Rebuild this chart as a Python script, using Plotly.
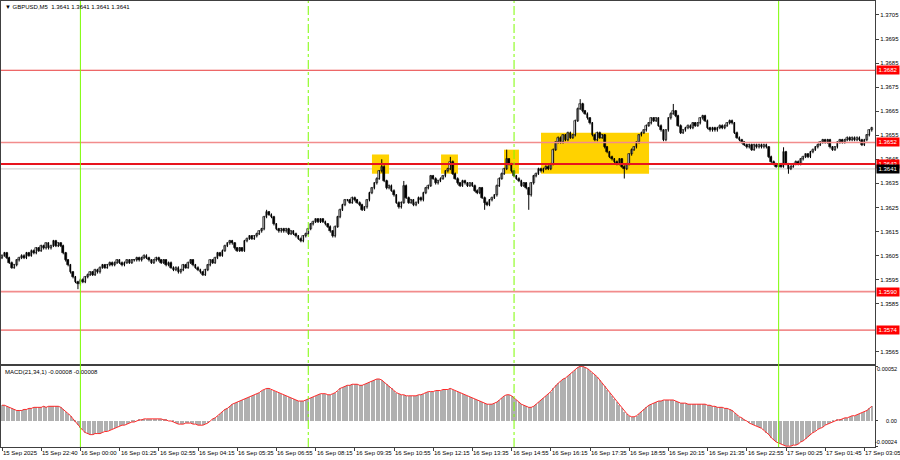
import plotly.graph_objects as go

# ---------------- data ----------------
closes = [
    # 15 Sep 21:20 ...
    1.3605, 1.3606, 1.3604, 1.3602, 1.3600, 1.3601, 1.3603, 1.3604, 1.3605, 1.3604, 1.3606, 1.3605,
    1.3607, 1.3606, 1.3608, 1.3607, 1.3609, 1.3608, 1.3610, 1.3608, 1.3609, 1.3611, 1.3609, 1.3610, 1.3609,
    1.3606, 1.3603, 1.3601, 1.3598, 1.3596, 1.3594, 1.3593,
    1.3595, 1.3594, 1.3596, 1.3597,
    1.3598, 1.3597, 1.3599, 1.3598, 1.3600, 1.3601, 1.3600,
    1.3601, 1.3602, 1.3601, 1.3602, 1.3603, 1.3602, 1.3601, 1.3602, 1.3603, 1.3602, 1.3603,
    1.3603, 1.3604, 1.3603, 1.3604, 1.3605, 1.3604, 1.3603, 1.3602, 1.3603, 1.3604, 1.3603, 1.3602, 1.3603, 1.3601, 1.3602, 1.3600,
    1.3599, 1.3600, 1.3598, 1.3599, 1.3601, 1.3600,
    1.3602, 1.3603, 1.3601, 1.3600, 1.3599,
    1.3598, 1.3597, 1.3599,
    1.3601, 1.3603, 1.3602, 1.3604, 1.3606, 1.3605, 1.3607, 1.3609, 1.3610, 1.3611,
    1.3610, 1.3608, 1.3607, 1.3608, 1.3607,
    1.3611, 1.3612, 1.3613, 1.3612, 1.3613, 1.3614, 1.3615, 1.3616,
    1.3621, 1.3623, 1.3622, 1.3621,
    1.3618, 1.3616, 1.3615,
    1.3616, 1.3615, 1.3616, 1.3614, 1.3615, 1.3614, 1.3613,
    1.3612, 1.3611, 1.3613, 1.3614,
    1.3616, 1.3618, 1.3619, 1.3620, 1.3619, 1.3620, 1.3619, 1.3618, 1.3617,
    1.3615, 1.3613,
    1.3617, 1.3621, 1.3624, 1.3626, 1.3628,
    1.3628, 1.3627, 1.3629, 1.3628, 1.3627, 1.3626, 1.3624,
    1.3625, 1.3628,
    1.3631, 1.3633, 1.3635, 1.3637, 1.3640, 1.3642,
    1.3636, 1.3633, 1.3634, 1.3632, 1.3630, 1.3627, 1.3625,
    1.3627, 1.3634, 1.3629,
    1.3627, 1.3628, 1.3626, 1.3627, 1.3629,
    1.3628, 1.3631, 1.3633, 1.3634,
    1.3638, 1.3637, 1.3635, 1.3636,
    1.3637, 1.3638, 1.3640, 1.3641,
    1.3644,
    1.3639, 1.3637, 1.3635,
    1.3634, 1.3636, 1.3635, 1.3634, 1.3635,
    1.3634, 1.3632, 1.3631, 1.3633,
    1.3629, 1.3627, 1.3626, 1.3628, 1.3629, 1.3630,
    1.3634, 1.3637, 1.3639,
    1.3641, 1.3645, 1.3643,
    1.3640, 1.3638, 1.3637,
    1.3636, 1.3634, 1.3635, 1.3633,
    1.3630, 1.3635, 1.3638,
    1.3639, 1.3641, 1.3640, 1.3641, 1.3642, 1.3641, 1.3643,
    1.3649, 1.3652,
    1.3654, 1.3652, 1.3655, 1.3653, 1.3656, 1.3654, 1.3655,
    1.3661, 1.3666, 1.3668, 1.3665,
    1.3664, 1.3662, 1.3660,
    1.3655, 1.3653, 1.3656, 1.3654, 1.3655,
    1.3650, 1.3648, 1.3646,
    1.3645, 1.3644, 1.3643, 1.3645, 1.3642, 1.3641, 1.3643,
    1.3647, 1.3649, 1.3650, 1.3652,
    1.3655, 1.3656, 1.3657,
    1.3659, 1.3660, 1.3662, 1.3661, 1.3662,
    1.3659, 1.3657,
    1.3653, 1.3657,
    1.3662, 1.3664, 1.3665, 1.3663,
    1.3659, 1.3656, 1.3657,
    1.3658, 1.3659, 1.3658, 1.3660, 1.3659, 1.3660,
    1.3662, 1.3663, 1.3661,
    1.3658, 1.3657, 1.3658, 1.3657,
    1.3658, 1.3659, 1.3658, 1.3659, 1.3660, 1.3661, 1.3660,
    1.3656, 1.3654, 1.3653,
    1.3652, 1.3651, 1.3650, 1.3651, 1.3649,
    1.3651, 1.3650, 1.3651, 1.3650, 1.3651, 1.3650,
    1.3646, 1.3644, 1.3643,
    1.3642, 1.3643, 1.3642,
    1.3648,
    1.3643, 1.3641, 1.3642,
    1.3643, 1.3644, 1.3643, 1.3645,
    1.3646, 1.3647, 1.3646, 1.3648, 1.3649,
    1.3650, 1.3651, 1.3652, 1.3653, 1.3652, 1.3653,
    1.3650, 1.3649, 1.3650,
    1.3652, 1.3653, 1.3652, 1.3653, 1.3654, 1.3653, 1.3654, 1.3653, 1.3654, 1.3653,
    1.3651, 1.3653,
    1.3655, 1.3657, 1.3658,
]
first_open = 1.3604

# notable wick extremes (bar index -> price)
high_marks = {108: 1.3624, 155: 1.3645, 164: 1.3636, 183: 1.3646, 206: 1.3649,
              236: 1.3670, 274: 1.3668, 319: 1.3650}
low_marks = {31: 1.3591, 197: 1.3624, 215: 1.3624, 254: 1.3637, 321: 1.3639}

macd = [
    0.00015, 0.00015, 0.00014, 0.00013, 0.00012, 0.00011, 0.00010, 0.00010, 0.00010, 0.00011, 0.00011, 0.00012,
    0.00012, 0.00013, 0.00013, 0.00013, 0.00013, 0.00014, 0.00013, 0.00014, 0.00014, 0.00014, 0.00014, 0.00014,
    0.00013, 0.00011, 0.00009, 0.00007, 0.00005, 0.00002, -0.00001, -0.00004,
    -0.00007, -0.00009, -0.00011, -0.00012, -0.00013, -0.00013, -0.00012, -0.00012, -0.00012,
    -0.00011, -0.00010, -0.00010, -0.00009, -0.00008, -0.00007, -0.00006, -0.00005, -0.00004, -0.00004, -0.00003,
    -0.00002, -0.00001, -0.00001, 0.00000, 0.00001,
    0.00001, 0.00002, 0.00002, 0.00002, 0.00002, 0.00002, 0.00002, 0.00002, 0.00002, 0.00001, 0.00001, 0.00000, 0.00000,
    -0.00001, -0.00002, -0.00003, -0.00003, -0.00003, -0.00002, -0.00002, -0.00002, -0.00003, -0.00003, -0.00004,
    -0.00004, -0.00004, -0.00003, -0.00002,
    0.00000, 0.00002, 0.00003, 0.00005, 0.00007, 0.00009, 0.00011, 0.00012, 0.00014, 0.00016, 0.00017, 0.00018, 0.00019,
    0.00020, 0.00021, 0.00022, 0.00023, 0.00024, 0.00025, 0.00026, 0.00027, 0.00029, 0.00030, 0.00031, 0.00031,
    0.00030, 0.00029, 0.00028, 0.00027,
    0.00026, 0.00025, 0.00024, 0.00023, 0.00022, 0.00021, 0.00020, 0.00019, 0.00019, 0.00019, 0.00020,
    0.00021, 0.00022, 0.00023, 0.00024, 0.00025, 0.00026, 0.00026, 0.00026, 0.00025, 0.00025, 0.00026, 0.00027,
    0.00029, 0.00031, 0.00032, 0.00033,
    0.00034, 0.00034, 0.00035, 0.00035, 0.00035, 0.00034, 0.00034, 0.00035, 0.00036, 0.00037, 0.00038, 0.00039,
    0.00040, 0.00040,
    0.00039, 0.00037, 0.00035, 0.00033, 0.00031, 0.00029, 0.00027, 0.00026, 0.00025, 0.00025, 0.00024, 0.00024,
    0.00024, 0.00024, 0.00024, 0.00025, 0.00025, 0.00026, 0.00027, 0.00028, 0.00028, 0.00028, 0.00029, 0.00029,
    0.00029, 0.00030, 0.00030, 0.00030, 0.00031,
    0.00030, 0.00029, 0.00028, 0.00027, 0.00026, 0.00025, 0.00024, 0.00023, 0.00022, 0.00021, 0.00020, 0.00019,
    0.00018, 0.00017, 0.00016, 0.00016, 0.00016, 0.00017, 0.00018, 0.00020,
    0.00022, 0.00024, 0.00025, 0.00025, 0.00024, 0.00022,
    0.00020, 0.00018, 0.00016, 0.00015, 0.00014, 0.00013, 0.00013, 0.00014, 0.00016, 0.00018,
    0.00020, 0.00022, 0.00024, 0.00026, 0.00028, 0.00031, 0.00034, 0.00036, 0.00038, 0.00040, 0.00041, 0.00043,
    0.00045, 0.00047, 0.00049, 0.00051, 0.00052, 0.00052, 0.00051,
    0.00050, 0.00048, 0.00046, 0.00044, 0.00042, 0.00039, 0.00036, 0.00033, 0.00030, 0.00027, 0.00024, 0.00021,
    0.00018, 0.00015, 0.00012, 0.00009, 0.00007, 0.00005,
    0.00004, 0.00004, 0.00005, 0.00007, 0.00009, 0.00011, 0.00013, 0.00015, 0.00016, 0.00017, 0.00018, 0.00019,
    0.00019, 0.00020, 0.00020, 0.00020, 0.00020, 0.00020, 0.00019, 0.00018, 0.00017, 0.00017, 0.00017, 0.00016,
    0.00016, 0.00016, 0.00016, 0.00016, 0.00016, 0.00016, 0.00016, 0.00015, 0.00015, 0.00014, 0.00014, 0.00013,
    0.00013,
    0.00013, 0.00012, 0.00012, 0.00011, 0.00010, 0.00008, 0.00006, 0.00004, 0.00003, 0.00001,
    0.00000, -0.00002, -0.00003, -0.00004, -0.00005, -0.00006, -0.00007, -0.00009, -0.00011, -0.00013, -0.00016,
    -0.00018, -0.00020, -0.00021, -0.00022, -0.00023, -0.00024, -0.00024,
    -0.00024, -0.00023, -0.00023, -0.00022, -0.00020, -0.00019, -0.00017, -0.00015, -0.00013, -0.00011, -0.00010,
    -0.00008, -0.00007, -0.00006, -0.00004, -0.00003,
    -0.00002, -0.00001, 0.00000, 0.00001, 0.00001, 0.00002, 0.00003, 0.00003, 0.00004, 0.00005, 0.00005, 0.00006,
    0.00007, 0.00008, 0.00009, 0.00010, 0.00012, 0.00014,
]

assert len(closes) == 356, len(closes)
assert len(macd) == len(closes), len(macd)

tick_bars = list(range(0, 356, 16))
tick_labels = ["15 Sep 2025", "15 Sep 22:40", "16 Sep 00:00", "16 Sep 01:25", "16 Sep 02:55",
               "16 Sep 04:15", "16 Sep 05:35", "16 Sep 06:55", "16 Sep 08:15", "16 Sep 09:35",
               "16 Sep 10:55", "16 Sep 12:15", "16 Sep 13:35", "16 Sep 14:55", "16 Sep 16:15",
               "16 Sep 17:35", "16 Sep 18:55", "16 Sep 20:15", "16 Sep 21:35", "16 Sep 22:55",
               "17 Sep 00:25", "17 Sep 01:45", "17 Sep 03:05"]

price_ticks = [1.3565, 1.3585, 1.3595, 1.3605, 1.3615, 1.3625, 1.3635, 1.3645,
               1.3655, 1.3665, 1.3675, 1.3685, 1.3695, 1.3705]
levels = [1.3682, 1.3652, 1.3643, 1.3590, 1.3574]
bid_price = 1.3641

session_lines = [32, 317]      # bars with solid green markers
dashdot_lines = [125, 209]     # bars with dash-dot green markers

zone_start = [151.0, 179.2, 204.9, 220.0]
zone_end = [158.0, 186.1, 211.0, 264.1]
zone_top = [1.3647, 1.3647, 1.3649, 1.3656]
zone_bottom = [1.3639, 1.3639, 1.3639, 1.3639]

title_text = "GBPUSD,M5  1.3641 1.3641 1.3641 1.3641"
macd_text = "MACD(21,34,1) -0.00008 -0.00008"
macd_label_vals = [0.00052, 0.0, -0.00024]
macd_label_text = ["0.00052", "0.00", "-0.00024"]

# ---------------- derived OHLC ----------------
idx = list(range(len(closes)))
opens = [first_open] + closes[:-1]
wick = 0.00005
highs, lows = [], []
for i, (o, c) in enumerate(zip(opens, closes)):
    h = max(o, c) + wick
    l = min(o, c) - wick
    if i in high_marks:
        h = max(h, high_marks[i])
    if i in low_marks:
        l = min(l, low_marks[i])
    highs.append(h)
    lows.append(l)

min_body = 0.00002
body_base = [min(o, c) for o, c in zip(opens, closes)]
body_len = [max(abs(c - o), min_body) for o, c in zip(opens, closes)]
body_fill = ["white" if c >= o else "black" for o, c in zip(opens, closes)]

wick_x, wick_y = [], []
for i, h, l in zip(idx, highs, lows):
    wick_x += [i, i, None]
    wick_y += [l, h, None]

signal = macd[:]  # SMA(1) of MACD

# ---------------- figure ----------------
FONT = "Liberation Sans"
FS = 6
AXC = "#404040"

fig = go.Figure()
fig.add_trace(go.Scatter(
    x=wick_x, y=wick_y, xaxis="x", yaxis="y", mode="lines",
    line=dict(color="black", width=1), showlegend=False, hoverinfo="skip"))
fig.add_trace(go.Bar(
    x=idx, y=body_len, base=body_base, xaxis="x", yaxis="y", width=0.7,
    marker=dict(color=body_fill, line=dict(color="black", width=0.6)),
    showlegend=False, hoverinfo="skip"))
fig.add_trace(go.Bar(
    x=idx, y=macd, xaxis="x2", yaxis="y2", width=0.42,
    marker=dict(color="#b0b0b0", line=dict(width=0)), showlegend=False, hoverinfo="skip"))
fig.add_trace(go.Scatter(
    x=idx, y=signal, xaxis="x2", yaxis="y2", mode="lines",
    line=dict(color="#ff2a2a", width=1), showlegend=False, hoverinfo="skip"))

W, H = 900, 460
ml, mr, mt, mb = 1, 25, 1, 13
plot_w = W - ml - mr
px_per_bar = 2.45
x0 = (ml - 2) / px_per_bar
x1 = x0 + plot_w / px_per_bar
plot_h = H - mt - mb
main_bottom_px = 364
macd_top_px = 366
main_dom = [(H - mb - main_bottom_px) / plot_h, 1]
macd_dom = [0, (H - mb - macd_top_px) / plot_h]
right_text_edge = 1 + (mr - 1) / plot_w   # paper x of the picture's right edge (minus 1px)

shapes = []
for s, e, t, b in zip(zone_start, zone_end, zone_top, zone_bottom):
    shapes.append(dict(type="rect", xref="x", yref="y", x0=s, x1=e, y0=b, y1=t,
                       fillcolor="#ffd200", line=dict(width=0), layer="below"))
for lv in levels:
    if lv == 1.3643:
        col, w = "#e8141e", 2
    elif lv in (1.3652, 1.3590):
        col, w = "#f28c8c", 1.6
    else:
        col, w = "#e83a3a", 1
    shapes.append(dict(type="line", xref="x domain", yref="y", x0=0, x1=1, y0=lv, y1=lv,
                       line=dict(color=col, width=w), layer="above"))
shapes.append(dict(type="line", xref="x domain", yref="y", x0=0, x1=1, y0=bid_price, y1=bid_price,
                   line=dict(color="#c8c8c8", width=1), layer="below"))
for b in session_lines:
    shapes.append(dict(type="line", xref="x", yref="paper", x0=b, x1=b, y0=0, y1=1,
                       line=dict(color="#7cfc00", width=1), layer="above"))
for b in dashdot_lines:
    shapes.append(dict(type="line", xref="x", yref="paper", x0=b, x1=b, y0=0, y1=1,
                       line=dict(color="#7cfc00", width=1, dash="dashdot"), layer="above"))

annotations = []
for b, lab in zip(tick_bars, tick_labels):
    annotations.append(dict(x=b, xref="x2", y=0, yref="paper", text=lab, showarrow=False,
                            xanchor="left", yanchor="top", yshift=-1, xshift=-1,
                            font=dict(family=FONT, size=FS, color="black")))
for lv in levels:
    annotations.append(dict(x=1, xref="paper", y=lv, yref="y", text=f"{lv:.4f}", showarrow=False,
                            xanchor="left", yanchor="middle", xshift=1, width=22, height=8,
                            bgcolor="#ff0000", borderpad=0,
                            font=dict(family=FONT, size=FS, color="white")))
annotations.append(dict(x=1, xref="paper", y=bid_price, yref="y", text=f"{bid_price:.4f}", showarrow=False,
                        xanchor="left", yanchor="middle", xshift=1, width=22, height=8,
                        bgcolor="#000000", borderpad=0,
                        font=dict(family=FONT, size=FS, color="white")))
annotations.append(dict(x=0, xref="paper", y=1, yref="paper", text="▼ " + title_text, showarrow=False,
                        xanchor="left", yanchor="top", xshift=2, yshift=-1,
                        font=dict(family=FONT, size=FS, color="black")))
annotations.append(dict(x=0, xref="paper", y=macd_dom[1], yref="paper", text=macd_text, showarrow=False,
                        xanchor="left", yanchor="top", xshift=2, yshift=-1,
                        font=dict(family=FONT, size=FS, color="black")))
for v, t in zip(macd_label_vals, macd_label_text):
    shift = -3 if v == max(macd_label_vals) else (4 if v == min(macd_label_vals) else 0)
    annotations.append(dict(x=right_text_edge, xref="paper", y=v, yref="y2", text=t,
                            showarrow=False, xanchor="right", yanchor="middle", yshift=shift,
                            font=dict(family=FONT, size=5.6, color="black")))

fig.update_layout(
    width=W, height=H,
    margin=dict(l=ml, r=mr, t=mt, b=mb, pad=0, autoexpand=False),
    paper_bgcolor="white", plot_bgcolor="white",
    showlegend=False, bargap=0, barmode="overlay",
    font=dict(family=FONT, size=FS, color="black"),
    xaxis=dict(domain=[0, 1], anchor="y", range=[x0, x1], showticklabels=False, ticks="",
               showgrid=False, zeroline=False, showline=True, mirror=True, linecolor=AXC,
               linewidth=1, automargin=False),
    yaxis=dict(domain=main_dom, anchor="x", range=[1.35599, 1.37108], side="right",
               tickvals=price_ticks, tickformat=".4f", ticks="outside", ticklen=3, tickcolor=AXC,
               showgrid=False, zeroline=False, showline=True, mirror=True, linecolor=AXC, linewidth=1,
               automargin=False, tickfont=dict(family=FONT, size=FS, color="black")),
    xaxis2=dict(domain=[0, 1], anchor="y2", matches="x", range=[x0, x1], tickvals=tick_bars,
                ticks="outside", ticklen=3, tickcolor=AXC, showticklabels=False, automargin=False,
                showgrid=False, zeroline=False, showline=True, mirror=True, linecolor=AXC, linewidth=1),
    yaxis2=dict(domain=macd_dom, anchor="x2", range=[-0.000248, 0.000524], side="right",
                tickvals=macd_label_vals, ticks="outside", ticklen=2, tickcolor=AXC,
                showticklabels=False,
                showgrid=False, zeroline=False, showline=True, mirror=True, linecolor=AXC, linewidth=1,
                automargin=False),
    shapes=shapes, annotations=annotations,
)

fig.write_html("out.html", config={"displayModeBar": False},
               post_script="document.body.style.margin='0';document.body.style.overflow='hidden';")
